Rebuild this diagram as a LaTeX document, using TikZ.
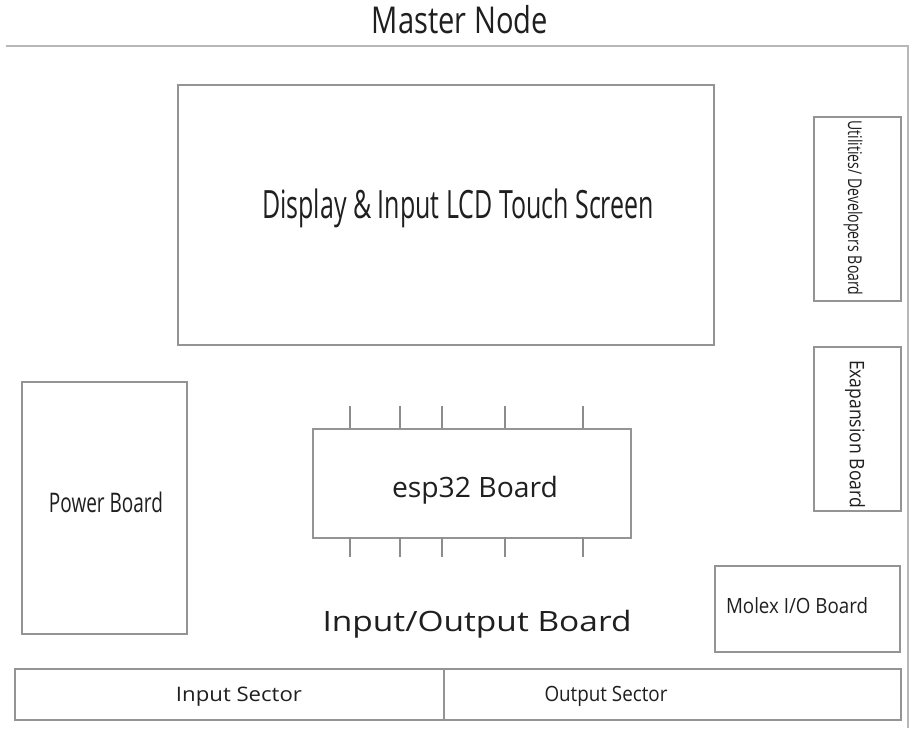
\documentclass[tikz,border=0pt]{standalone}
\usepackage{fontspec}
\usepackage{graphicx}
\setmainfont{Open Sans}
\newcommand\fitw[2]{\resizebox{#1}{\height}{#2}}
\newcommand\fs[1]{\fontsize{#1}{#1}\selectfont}
\begin{document}
\begin{tikzpicture}[x=1pt,y=-1pt,
  box/.style={draw=black!42, line width=1.6pt, anchor=north west, inner sep=0pt},
  frameline/.style={draw=black!28, line width=2pt},
  pin/.style={draw=black!45, line width=1.4pt},
  lbl/.style={inner sep=0pt, text=black!88}]
\useasboundingbox[fill=white] (0,0) rectangle (912,728);
% title and outer frame
\node[lbl, anchor=base] (title) at (460,33) {\fs{37}\fitw{176pt}{Master Node}};
\coordinate (fl) at (6,45.5);
\coordinate (fr) at (908,45.5);
\coordinate (fb) at (908,728);
\draw[frameline] (fl) -- (fr) -- (fb);
% display
\node[box, minimum width=536pt, minimum height=260pt] (disp) at (177,84) {};
\node[lbl, anchor=base] (disptxt) at (458,218) {\fs{39}\fitw{392pt}{Display \& Input LCD Touch Screen}};
% utilities
\node[box, minimum width=87pt, minimum height=184pt] (util) at (813,116) {};
\node[lbl, rotate=-90] (utiltxt) at (853,208) {\fs{19}\fitw{175pt}{Utilities/ Developers Board}};
% expansion
\node[box, minimum width=87pt, minimum height=164pt] (exp) at (813,346) {};
\node[lbl, rotate=-90] (exptxt) at (855,434) {\fs{20}\fitw{148pt}{Exapansion Board}};
% power
\node[box, minimum width=165pt, minimum height=252pt] (pwr) at (21,381) {};
\node[lbl, anchor=base] (pwrtxt) at (106,512) {\fs{27}\fitw{114pt}{Power Board}};
% esp32
\node[box, minimum width=318pt, minimum height=109pt] (esp) at (312,428) {};
\node[lbl, anchor=base] (esptxt) at (475,497) {\fs{28}\fitw{166pt}{esp32 Board}};
\foreach \px [count=\i] in {350,400,442,505,583}{
  \coordinate (pt\i) at (\px,406);
  \coordinate (pb\i) at (\px,557);
  \draw[pin] (pt\i) -- (\px,428);
  \draw[pin] (\px,537) -- (pb\i);
}
% molex
\node[box, minimum width=185pt, minimum height=86pt] (molex) at (714,565) {};
\node[lbl, anchor=base] (molextxt) at (797,613) {\fs{21}\fitw{142pt}{Molex I/O Board}};
% input/output board
\node[lbl, anchor=base] (iotitle) at (477,631) {\fs{28}\fitw{309pt}{Input/Output Board}};
\node[box, minimum width=429pt, minimum height=51pt] (insec) at (14,668) {};
\node[box, minimum width=457pt, minimum height=51pt] (outsec) at (443,668) {};
\node[lbl, anchor=base] (intxt) at (239,701) {\fs{20}\fitw{126pt}{Input Sector}};
\node[lbl, anchor=base] (outtxt) at (606,701) {\fs{21}\fitw{123pt}{Output Sector}};
\end{tikzpicture}
\end{document}
